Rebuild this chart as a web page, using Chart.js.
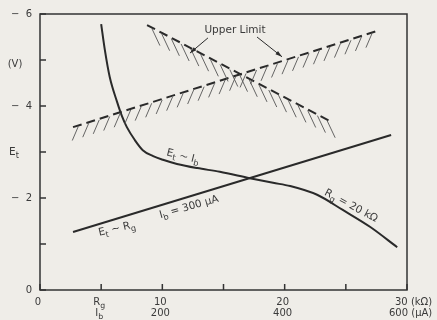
<!DOCTYPE html>
<html>
<head>
<meta charset="utf-8">
<script src="https://cdn.jsdelivr.net/npm/chart.js@4/dist/chart.umd.min.js"></script>
<style>
    html, body { margin: 0; padding: 0; background: #efede8; }
</style>
</head>
<body>
<canvas id="etChart" width="437" height="320"></canvas>
<script>
// Et (V) vs Rg (kΩ) at Ib = 300 μA, and vs Ib (μA) at Rg = 20 kΩ
var rgTicks = [0, 5, 10, 15, 20, 25, 30];
var rgTickLabels = ["0", "R_g", "10", "", "20", "", "30"];
var ibTickLabels = ["", "I_b", "200", "", "400", "", "600"];
var xUnits = ["(kΩ)", "(μA)"];
var etTicks = [-6, -5, -4, -3, -2, -1, 0];
var etTickLabels = ["−  6", "", "−  4", "", "−  2", "", "0"];

// Et ~ Rg, Ib = 300 μA
var rgLineRg = [2.7, 28.7];
var rgLineEt = [-1.26, -3.37];

// Et ~ Ib, Rg = 20 kΩ
var ibCurveIb = [100, 106, 114, 126, 134, 142, 155, 168, 185, 201, 224, 257, 294, 343, 381, 409, 453, 495, 540, 584];
var ibCurveEt = [-5.78, -5.22, -4.63, -4.09, -3.78, -3.54, -3.26, -3.04, -2.91, -2.83, -2.74, -2.65, -2.57, -2.43, -2.33, -2.26, -2.07, -1.74, -1.37, -0.93];

// upper limits
var limitRg = [2.7, 27.55];
var limitRgEt = [-3.54, -5.63];
var limitIb = [175, 474];
var limitIbEt = [-5.76, -3.67];

function pairs(xs, ys) {
    return xs.map(function (x, i) { return { x: x, y: ys[i] }; });
}

var ink = "#2a2a2a";
var textInk = "#3a3a3a";
var fontFamily = "'DejaVu Sans', sans-serif";

// text with "_x" meaning subscript x
function drawRich(ctx, s, x, y, size, align, rot) {
    var parts = [];
    for (var i = 0; i < s.length; i++) {
        if (s[i] === "_") {
            parts.push({ t: s[i + 1], sub: true });
            i++;
        } else if (parts.length && !parts[parts.length - 1].sub) {
            parts[parts.length - 1].t += s[i];
        } else {
            parts.push({ t: s[i], sub: false });
        }
    }
    ctx.save();
    ctx.translate(x, y);
    ctx.rotate((rot || 0) * Math.PI / 180);
    ctx.textBaseline = "middle";
    ctx.textAlign = "left";
    var w = 0;
    parts.forEach(function (p) {
        ctx.font = (p.sub ? size * 0.78 : size) + "px " + fontFamily;
        p.w = ctx.measureText(p.t).width;
        w += p.w;
    });
    var cx = align === "center" ? -w / 2 : (align === "right" ? -w : 0);
    parts.forEach(function (p) {
        ctx.font = (p.sub ? size * 0.78 : size) + "px " + fontFamily;
        ctx.fillText(p.t, cx, p.sub ? size * 0.35 : 0);
        cx += p.w;
    });
    ctx.restore();
}

var notes = [
    { text: "Upper Limit", x: 15.94, y: -5.65, rot: 0 },
    { text: "E_t ∼ I_b", x: 11.69, y: -2.9, rot: 14 },
    { text: "I_b = 300 μA", x: 12.18, y: -1.8, rot: -16 },
    { text: "E_t ∼ R_g", x: 6.29, y: -1.33, rot: -13 },
    { text: "R_g = 20 kΩ", x: 25.42, y: -1.83, rot: 28 }
];
var arrows = [
    { from: [13.73, -5.48], to: [12.26, -5.15] },
    { from: [17.74, -5.5], to: [19.78, -5.07] }
];

var framePlugin = {
    id: "frame",
    beforeDatasetsDraw: function (chart) {
        var ctx = chart.ctx, a = chart.chartArea;
        var xs = chart.scales.x, ys = chart.scales.y, xi = chart.scales.xIb;
        ctx.save();
        ctx.strokeStyle = "#333";
        ctx.lineWidth = 1.5;
        ctx.strokeRect(a.left, a.top, a.right - a.left, a.bottom - a.top);
        ctx.beginPath();
        etTicks.forEach(function (v) {
            var py = ys.getPixelForValue(v);
            ctx.moveTo(a.left, py);
            ctx.lineTo(a.left + 6, py);
        });
        rgTicks.forEach(function (v) {
            var px = xs.getPixelForValue(v);
            ctx.moveTo(px, a.bottom);
            ctx.lineTo(px, a.bottom - 6);
        });
        ctx.stroke();

        ctx.fillStyle = textInk;
        // y tick labels
        etTicks.forEach(function (v, i) {
            if (etTickLabels[i]) drawRich(ctx, etTickLabels[i], a.left - 8, ys.getPixelForValue(v), 10, "right", 0);
        });
        drawRich(ctx, "(V)", a.left - 25, ys.getPixelForValue(-4.9), 10, "center", 0);
        drawRich(ctx, "E_t", a.left - 26, ys.getPixelForValue(-3.0), 10.5, "center", 0);

        // x tick labels: kΩ row and μA row
        var last = rgTicks.length - 1;
        rgTicks.forEach(function (v, i) {
            var px = xs.getPixelForValue(v);
            var ib = xi.getPixelForValue(v * 20);
            if (i === last) {
                drawRich(ctx, rgTickLabels[i] + " " + xUnits[0], px - 12, a.bottom + 12, 10, "left", 0);
                drawRich(ctx, ibTickLabels[i] + " " + xUnits[1], ib - 18, a.bottom + 23, 10, "left", 0);
                return;
            }
            if (rgTickLabels[i]) drawRich(ctx, rgTickLabels[i], px - 2, a.bottom + 12, 10, "center", 0);
            if (ibTickLabels[i]) drawRich(ctx, ibTickLabels[i], ib - 2, a.bottom + 23, 10, "center", 0);
        });
        ctx.restore();
    },
    afterDatasetsDraw: function (chart) {
        var ctx = chart.ctx;
        var xs = chart.scales.x, ys = chart.scales.y;
        ctx.save();
        // hatching under the upper limit lines
        ctx.strokeStyle = "#555";
        ctx.lineWidth = 0.9;
        chart.data.datasets.forEach(function (ds, i) {
            if (!ds.hatch) return;
            var pts = chart.getDatasetMeta(i).data;
            var step = ds.hatch.step, carry = step / 2;
            ctx.beginPath();
            for (var k = 1; k < pts.length; k++) {
                var p0 = pts[k - 1], p1 = pts[k];
                var len = Math.hypot(p1.x - p0.x, p1.y - p0.y);
                var d = carry;
                while (d <= len) {
                    var t = d / len;
                    var hx = p0.x + (p1.x - p0.x) * t, hy = p0.y + (p1.y - p0.y) * t;
                    ctx.moveTo(hx, hy + 1);
                    ctx.lineTo(hx + ds.hatch.dx, hy + ds.hatch.dy);
                    d += step;
                }
                carry = d - len;
            }
            ctx.stroke();
        });

        // arrows to the upper limit lines
        ctx.strokeStyle = ink;
        ctx.fillStyle = ink;
        ctx.lineWidth = 1;
        arrows.forEach(function (ar) {
            var x0 = xs.getPixelForValue(ar.from[0]), y0 = ys.getPixelForValue(ar.from[1]);
            var x1 = xs.getPixelForValue(ar.to[0]), y1 = ys.getPixelForValue(ar.to[1]);
            var ang = Math.atan2(y1 - y0, x1 - x0);
            ctx.beginPath();
            ctx.moveTo(x0, y0);
            ctx.lineTo(x1, y1);
            ctx.stroke();
            ctx.beginPath();
            ctx.moveTo(x1, y1);
            ctx.lineTo(x1 - 7 * Math.cos(ang - 0.3), y1 - 7 * Math.sin(ang - 0.3));
            ctx.lineTo(x1 - 7 * Math.cos(ang + 0.3), y1 - 7 * Math.sin(ang + 0.3));
            ctx.closePath();
            ctx.fill();
        });

        ctx.fillStyle = textInk;
        notes.forEach(function (n) {
            drawRich(ctx, n.text, xs.getPixelForValue(n.x), ys.getPixelForValue(n.y), 10.5, "center", n.rot);
        });
        ctx.restore();
    }
};

var ctx = document.getElementById("etChart").getContext("2d");
new Chart(ctx, {
    type: "line",
    data: {
        datasets: [{
            label: "Et ~ Rg (Ib = 300 μA)",
            data: pairs(rgLineRg, rgLineEt),
            xAxisID: "x",
            borderColor: ink,
            borderWidth: 2,
            pointRadius: 0
        }, {
            label: "Et ~ Ib (Rg = 20 kΩ)",
            data: pairs(ibCurveIb, ibCurveEt),
            xAxisID: "xIb",
            borderColor: ink,
            borderWidth: 2,
            pointRadius: 0,
            cubicInterpolationMode: "monotone"
        }, {
            label: "Upper Limit (Rg)",
            data: pairs(limitRg, limitRgEt),
            xAxisID: "x",
            borderColor: ink,
            borderWidth: 2,
            borderDash: [9, 5],
            pointRadius: 0,
            hatch: { step: 11, dx: -6, dy: 15 }
        }, {
            label: "Upper Limit (Ib)",
            data: pairs(limitIb, limitIbEt),
            xAxisID: "xIb",
            borderColor: ink,
            borderWidth: 2,
            borderDash: [9, 5],
            pointRadius: 0,
            hatch: { step: 11, dx: 8, dy: 18 }
        }]
    },
    options: {
        responsive: false,
        animation: false,
        devicePixelRatio: 1,
        layout: {
            padding: { left: 40, top: 14, right: 30, bottom: 30 }
        },
        plugins: {
            legend: { display: false },
            tooltip: { enabled: false }
        },
        scales: {
            x: { type: "linear", min: 0, max: 30, display: false },
            xIb: { type: "linear", min: 0, max: 600, display: false },
            y: { type: "linear", min: -6, max: 0, reverse: true, display: false }
        }
    },
    plugins: [framePlugin]
});
</script>
</body>
</html>
